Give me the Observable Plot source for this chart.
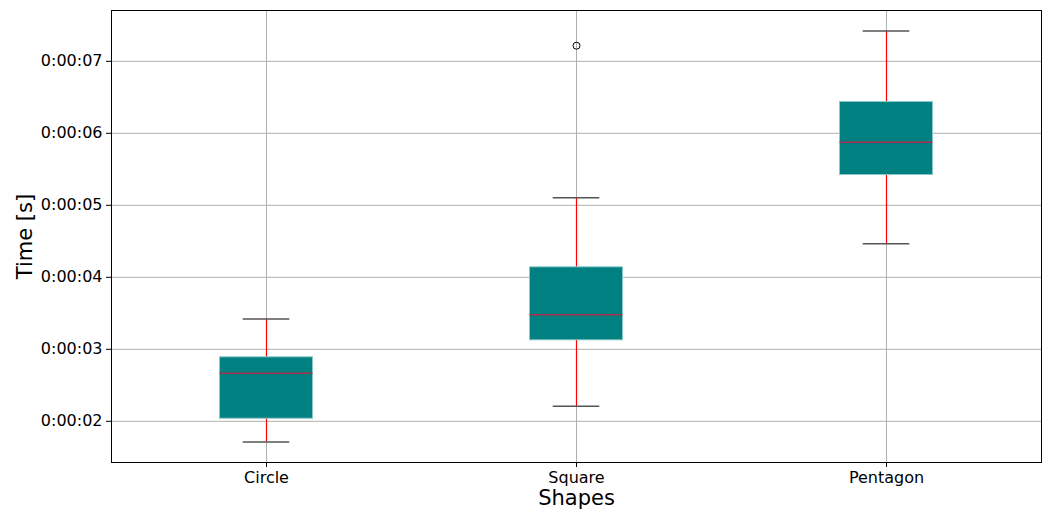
<!DOCTYPE html>
<html>
<head>
<meta charset="utf-8">
<script src="https://cdn.jsdelivr.net/npm/d3@7"></script>
<script src="https://cdn.jsdelivr.net/npm/@observablehq/plot@0.6"></script>
<style>
  html, body { margin: 0; padding: 0; background: white; }
</style>
</head>
<body>
<div id="chart"></div>
<script>
const categories = ["Circle", "Square", "Pentagon"];
const q1 = [2.036, 3.125, 5.421];
const median = [2.667, 3.481, 5.875];
const q3 = [2.889, 4.139, 6.435];
const whiskerLow = [1.713, 2.208, 4.467];
const whiskerHigh = [3.421, 5.106, 7.421];
const outlierShapes = ["Square"];
const outlierValues = [7.217];
const yTicks = [2, 3, 4, 5, 6, 7];

const rows = categories.map((c, i) => ({
  shape: c, pos: i + 1, q1: q1[i], median: median[i], q3: q3[i],
  lo: whiskerLow[i], hi: whiskerHigh[i]
}));
const outliers = outlierShapes.map((s, i) => ({pos: categories.indexOf(s) + 1, value: outlierValues[i]}));
const positions = categories.map((c, i) => i + 1);

const BOX = 0.15, CAP = 0.075;
const fmt = d => `0:00:${String(d).padStart(2, "0")}`;

const chart = Plot.plot({
  width: 1045,
  height: 511,
  marginLeft: 111,
  marginRight: 4,
  marginTop: 10,
  marginBottom: 49,
  x: {domain: [0.5, 3.5], axis: null},
  y: {domain: [1.428, 7.706], axis: null},
  style: {fontFamily: "DejaVu Sans", fontSize: "16px", background: "white", color: "black"},
  marks: [
    Plot.gridY(yTicks, {stroke: "#b0b0b0", strokeOpacity: 1, strokeWidth: 1}),
    Plot.gridX(positions, {stroke: "#b0b0b0", strokeOpacity: 1, strokeWidth: 1}),
    Plot.ruleX(rows, {x: "pos", y1: "lo", y2: "q1", stroke: "red", strokeWidth: 1.2}),
    Plot.ruleX(rows, {x: "pos", y1: "q3", y2: "hi", stroke: "red", strokeWidth: 1.2}),
    Plot.rect(rows, {x1: d => d.pos - BOX, x2: d => d.pos + BOX, y1: "q1", y2: "q3", fill: "#008080", stroke: "#8cc8c8", strokeWidth: 1}),
    Plot.ruleY(rows, {y: "median", x1: d => d.pos - BOX, x2: d => d.pos + BOX, stroke: "#a8304c", strokeWidth: 1.5}),
    Plot.ruleY(rows, {y: "lo", x1: d => d.pos - CAP, x2: d => d.pos + CAP, stroke: "#555", strokeWidth: 1.5}),
    Plot.ruleY(rows, {y: "hi", x1: d => d.pos - CAP, x2: d => d.pos + CAP, stroke: "#555", strokeWidth: 1.5}),
    Plot.dot(outliers, {x: "pos", y: "value", r: 3.5, stroke: "black", fill: "none", strokeWidth: 1}),
    Plot.frame({stroke: "black", strokeWidth: 1}),
    Plot.axisY(yTicks, {tickFormat: fmt, tickSize: 5, tickPadding: 4, fontSize: 16, label: null, stroke: "black"}),
    Plot.axisX(positions, {tickFormat: i => categories[i - 1], tickSize: 5, tickPadding: 4, fontSize: 16, label: null, stroke: "black"}),
    Plot.text(["Time [s]"], {frameAnchor: "left", dx: -86, rotate: -90, fontSize: 21, textAnchor: "middle", lineAnchor: "middle"}),
    Plot.text(["Shapes"], {frameAnchor: "bottom", dy: 36, fontSize: 21, textAnchor: "middle", lineAnchor: "middle"})
  ]
});
document.getElementById("chart").appendChild(chart);
</script>
</body>
</html>
